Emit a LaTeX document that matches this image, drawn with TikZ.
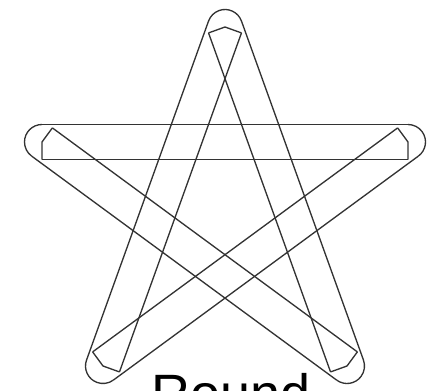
\documentclass[tikz,border=0pt]{standalone}
\usepackage{fontspec}
\setmainfont{Liberation Sans}
\usetikzlibrary{calc}
\tikzset{outline/.style={draw=black!80,line width=1pt,line join=round}}
\def\rr{13.125pt}

\begin{document}
\begin{tikzpicture}[x=0.75pt,y=0.75pt]
\useasboundingbox (0,0) rectangle (428,390);
\clip (0,0) rectangle (428,390);
	\coordinate (T) at (225,363);
	\coordinate (L) at (42,248);
	\coordinate (R) at (408,248);
	\coordinate (BL) at (103,24);
	\coordinate (BR) at (347,24);

	% sides of the strokes
	\foreach \a/\b in {T/BL,BL/R,R/L,L/BR,BR/T}{
		\draw[outline] ($(\a)!\rr!90:(\b)$) -- ($(\b)!\rr!-90:(\a)$);
		\draw[outline] ($(\a)!\rr!-90:(\b)$) -- ($(\b)!\rr!90:(\a)$);
	}
	% round joins, outer side
	\foreach \v/\s/\e in {BL/160.21/306.29,R/-53.71/90,L/90/233.71,BR/-126.29/19.79,T/19.79/160.21}
		\draw[outline] (\v) ++(\s:\rr) arc[start angle=\s,end angle=\e,radius=\rr];
	% inner side of the joins
	\foreach \a/\v/\b in {T/BL/R,BL/R/L,R/L/BR,L/BR/T,BR/T/BL}
		\draw[outline] ($(\v)!\rr!-90:(\a)$) -- (\v) -- ($(\v)!\rr!90:(\b)$);

	\node[anchor=base,font=\fontsize{40.5}{48}\selectfont] (lbl) at (231.5,-22) {Round};
\end{tikzpicture}
\end{document}
